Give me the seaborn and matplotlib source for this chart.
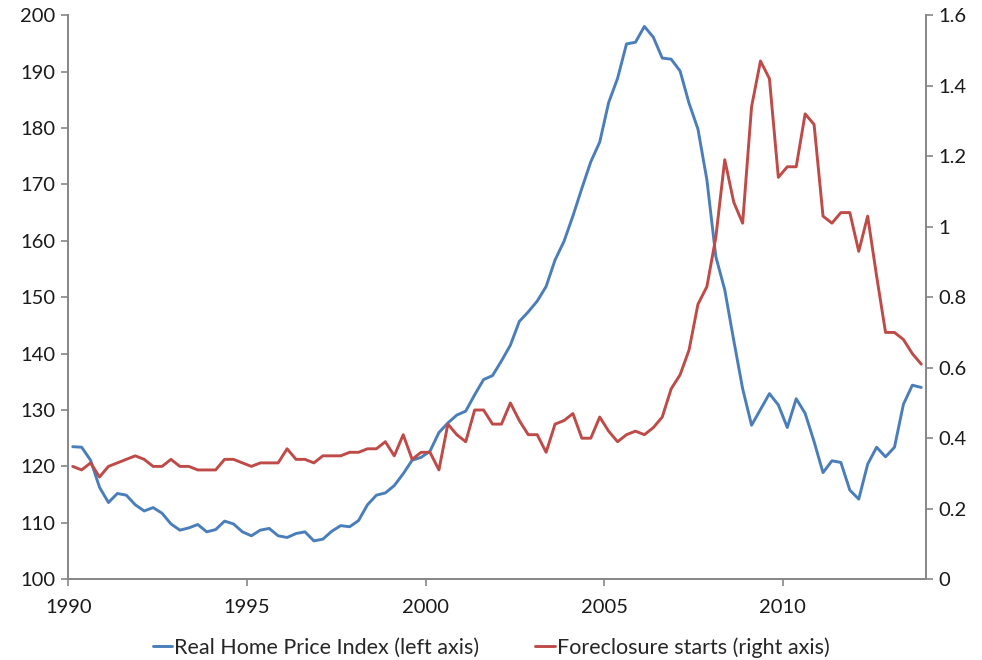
import numpy as np
import pandas as pd
import matplotlib
matplotlib.use("Agg")
import matplotlib.pyplot as plt
import seaborn as sns

# quarterly values, 1990Q1 .. 2013Q4
home_price = [
    123.5, 123.4, 121.1, 116.3, 113.6, 115.2, 114.9, 113.2, 112.1, 112.7,
    111.7, 109.8, 108.7, 109.1, 109.7, 108.4, 108.8, 110.3, 109.8, 108.4,
    107.7, 108.7, 109.0, 107.7, 107.4, 108.1, 108.4, 106.8, 107.1, 108.5,
    109.5, 109.3, 110.4, 113.2, 114.9, 115.3, 116.6, 118.7, 121.1, 121.6,
    122.7, 126.0, 127.7, 129.1, 129.8, 132.7, 135.4, 136.1, 138.7, 141.5,
    145.7, 147.4, 149.3, 151.9, 156.6, 159.9, 164.4, 169.3, 174.0, 177.5,
    184.5, 188.8, 194.9, 195.2, 198.0, 196.1, 192.4, 192.2, 190.1, 184.4,
    179.8, 170.8, 157.2, 151.3, 142.4, 133.8, 127.3, 130.1, 132.9, 130.9,
    126.9, 132.0, 129.4, 124.4, 118.9, 121.0, 120.7, 115.8, 114.2, 120.4,
    123.4, 121.7, 123.4, 131.0, 134.4, 134.0,
]
foreclosures = [
    0.32, 0.31, 0.33, 0.29, 0.32, 0.33, 0.34, 0.35, 0.34, 0.32,
    0.32, 0.34, 0.32, 0.32, 0.31, 0.31, 0.31, 0.34, 0.34, 0.33,
    0.32, 0.33, 0.33, 0.33, 0.37, 0.34, 0.34, 0.33, 0.35, 0.35,
    0.35, 0.36, 0.36, 0.37, 0.37, 0.39, 0.35, 0.41, 0.34, 0.36,
    0.36, 0.31, 0.44, 0.41, 0.39, 0.48, 0.48, 0.44, 0.44, 0.50,
    0.45, 0.41, 0.41, 0.36, 0.44, 0.45, 0.47, 0.40, 0.40, 0.46,
    0.42, 0.39, 0.41, 0.42, 0.41, 0.43, 0.46, 0.54, 0.58, 0.65,
    0.78, 0.83, 0.97, 1.19, 1.07, 1.01, 1.34, 1.47, 1.42, 1.14,
    1.17, 1.17, 1.32, 1.29, 1.03, 1.01, 1.04, 1.04, 0.93, 1.03,
    0.86, 0.70, 0.70, 0.68, 0.64, 0.61,
]
year_ticks = [1990, 1995, 2000, 2005, 2010]

# points sit in the middle of each quarter
t = 1990 + (np.arange(len(home_price)) + 0.5) / 4
df = pd.DataFrame({"t": t, "hpi": home_price, "fc": foreclosures})

sns.set_theme(style="white")
plt.rcParams["font.family"] = ["Lato", "DejaVu Sans"]

blue = "#4A7EBB"
red = "#BE4B48"
grey = "#868686"

fig = plt.figure(figsize=(9.82, 6.6), dpi=100)
ax = fig.add_axes([0.0695, 0.1224, 0.8732, 0.8546])
ax2 = ax.twinx()

sns.lineplot(data=df, x="t", y="hpi", ax=ax, color=blue, linewidth=2.1,
             label="Real Home Price Index (left axis)", legend=False)
sns.lineplot(data=df, x="t", y="fc", ax=ax2, color=red, linewidth=2.1,
             label="Foreclosure starts (right axis)", legend=False)

ax.set_xlim(1990, 2014)
ax.set_ylim(100, 200)
ax2.set_ylim(0, 1.6)
ax.set_yticks(range(100, 201, 10))
ax2.set_yticks(np.arange(0, 1.61, 0.2))
ax2.set_yticklabels(["0"] + [f"{v:g}" for v in np.arange(0.2, 1.61, 0.2)])
ax.set_xticks(year_ticks)
ax.set_xlabel("")
ax.set_ylabel("")
ax2.set_ylabel("")

for a in (ax, ax2):
    a.grid(False)
    a.spines["top"].set_visible(False)
    for s in ("left", "right", "bottom"):
        a.spines[s].set_color(grey)
        a.spines[s].set_linewidth(1.2)
    a.tick_params(colors=grey, labelcolor="#1a1a1a", labelsize=14.5,
                  length=5, width=1.2, direction="out")
ax.tick_params(axis="y", left=True, pad=4)
ax2.tick_params(axis="y", right=True, pad=4)
ax.tick_params(axis="x", bottom=True, pad=9)

h1, l1 = ax.get_legend_handles_labels()
h2, l2 = ax2.get_legend_handles_labels()
fig.legend(h1 + h2, l1 + l2, loc="lower center", bbox_to_anchor=(0.5, -0.026),
           ncol=2, frameon=False, fontsize=15.5, handlelength=0.9,
           handletextpad=0.1, columnspacing=2.6)

fig.savefig("out.png", dpi=100)
